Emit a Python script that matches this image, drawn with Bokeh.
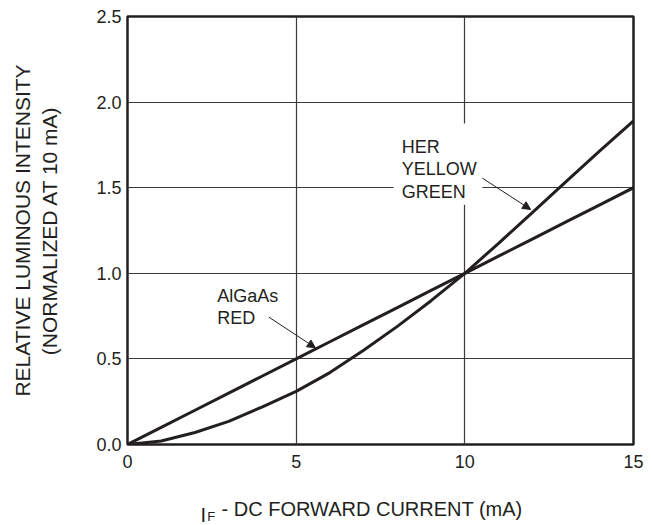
from bokeh.plotting import figure
from bokeh.models import (Range1d, FixedTicker, Label, Arrow, NormalHead,
                          BoxAnnotation, NumeralTickFormatter, Title)
from bokeh.embed import file_html
from bokeh.resources import INLINE

# ---- data ----
current_ma = [0, 1, 2, 3, 4, 5, 6, 7, 8, 9, 10, 11, 12, 13, 14, 15]
algaas_red = [0.0, 0.1, 0.2, 0.3, 0.4, 0.5, 0.6, 0.7, 0.8, 0.9, 1.0,
              1.1, 1.2, 1.3, 1.4, 1.5]
her_yellow_green = [0.0, 0.02, 0.07, 0.135, 0.22, 0.31, 0.42, 0.55, 0.69,
                    0.84, 1.0, 1.175, 1.355, 1.535, 1.715, 1.89]
x_ticks = [0, 5, 10, 15]
y_ticks = [0.0, 0.5, 1.0, 1.5, 2.0, 2.5]

INK = "#231f20"
FONT = "Liberation Sans"

p = figure(width=652, height=525, output_backend="svg", toolbar_location=None,
           x_range=Range1d(0, 15), y_range=Range1d(0, 2.5),
           min_border_left=127, min_border_right=19, min_border_top=16,
           min_border_bottom=81)

p.outline_line_color = INK
p.outline_line_width = 2.5
p.background_fill_color = "white"

for ax in (p.xaxis[0], p.yaxis[0]):
    ax.axis_line_color = None
    ax.major_tick_line_color = None
    ax.minor_tick_line_color = None
    ax.major_label_text_font = FONT
    ax.major_label_text_font_size = "18px"
    ax.major_label_text_color = INK

p.xaxis.ticker = FixedTicker(ticks=x_ticks)
p.yaxis.ticker = FixedTicker(ticks=y_ticks)
p.yaxis.formatter = NumeralTickFormatter(format="0.0")
p.xaxis.major_label_standoff = 4
p.yaxis.major_label_standoff = 0

p.yaxis.axis_label = "RELATIVE LUMINOUS INTENSITY\n(NORMALIZED AT 10 mA)"
p.yaxis.axis_label_text_font = FONT
p.yaxis.axis_label_text_font_size = "21px"
p.yaxis.axis_label_text_font_style = "normal"
p.yaxis.axis_label_text_color = INK
p.yaxis.axis_label_standoff = 32

p.xgrid.ticker = FixedTicker(ticks=x_ticks)
p.ygrid.ticker = FixedTicker(ticks=y_ticks)
for g in (p.xgrid[0], p.ygrid[0]):
    g.grid_line_color = "#3a3a3a"
    g.grid_line_width = 1.2

# curves
p.line(current_ma, algaas_red, line_color=INK, line_width=3)
p.line(current_ma, her_yellow_green, line_color=INK, line_width=3)

# white box behind HER YELLOW GREEN label (hides grid)
p.add_layout(BoxAnnotation(left=7.89, right=10.52, bottom=1.40, top=1.875,
                           fill_color="white", fill_alpha=1.0,
                           line_color=None, level="underlay"))

def lab(x, y, t, size="18px", **kw):
    p.add_layout(Label(x=x, y=y, text=t, text_font=FONT, text_font_size=size,
                       text_color=INK, text_baseline="alphabetic", **kw))

lab(8.13, 1.739, "HER")
lab(8.13, 1.610, "YELLOW")
lab(8.13, 1.475, "GREEN")
lab(2.66, 0.870, "AlGaAs")
lab(2.66, 0.740, "RED")

head = dict(size=8, fill_color=INK, line_color=INK, line_width=1)
p.add_layout(Arrow(end=NormalHead(**head), x_start=4.19, y_start=0.744,
                   x_end=5.57, y_end=0.565, line_color=INK, line_width=1))
p.add_layout(Arrow(end=NormalHead(**head), x_start=10.52, y_start=1.556,
                   x_end=11.95, y_end=1.373, line_color=INK, line_width=1))

# x-axis title "I_F - DC FORWARD CURRENT (mA)" built from titles below the axis
def below(text, size, offset, standoff):
    p.add_layout(Title(text=text, align="left", vertical_align="top",
                       offset=offset, standoff=standoff, text_font=FONT,
                       text_font_size=size, text_font_style="normal",
                       text_color=INK), "below")

below(" ", "1px", 0, 31.3)                              # spacer
below("- DC FORWARD CURRENT (mA)", "20px", 94, -13)
below("I", "20px", 73, -22.6)
below("F", "13px", 79.7, -14.4)

open("out.html", "w").write(file_html(p, INLINE))
